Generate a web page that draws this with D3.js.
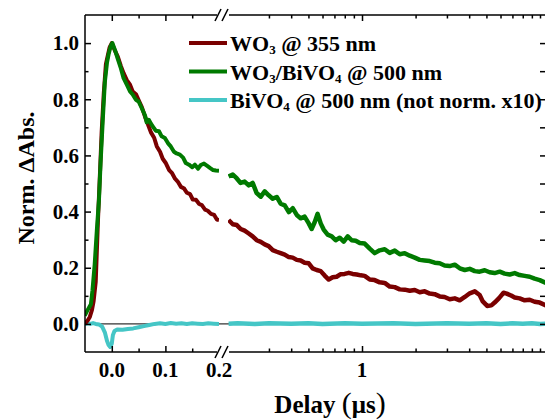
<!DOCTYPE html>
<html>
<head>
<meta charset="utf-8">
<script src="https://cdn.jsdelivr.net/npm/d3@7"></script>
<style>
  body { margin: 0; background: #fff; }
  text { font-family: "Liberation Serif", "Times New Roman", serif; font-weight: bold; fill: #000; }
</style>
</head>
<body>
<svg id="chart" width="545" height="420"></svg>
<script>
// ---- data: [delay (us), normalised dAbs] ----
// fast part, linear time axis (-0.05 .. 0.2 us)
const wo3Fast = [
  [-0.0505, 0.0], [-0.045, 0.012], [-0.041, 0.025], [-0.037, 0.05], [-0.034, 0.08],
  [-0.030, 0.15], [-0.026, 0.36], [-0.022, 0.54], [-0.019, 0.68], [-0.015, 0.82],
  [-0.011, 0.925], [-0.007, 0.96], [-0.004, 0.985], [0.0, 1.0], [0.006, 0.972],
  [0.011, 0.953], [0.017, 0.918], [0.022, 0.893], [0.028, 0.868], [0.034, 0.852],
  [0.039, 0.828], [0.045, 0.818], [0.050, 0.797], [0.056, 0.772], [0.062, 0.738],
  [0.067, 0.713], [0.073, 0.682], [0.079, 0.663], [0.084, 0.632], [0.090, 0.613],
  [0.095, 0.588], [0.101, 0.572], [0.107, 0.548], [0.112, 0.538], [0.118, 0.517],
  [0.123, 0.507], [0.129, 0.488], [0.135, 0.482], [0.140, 0.467], [0.146, 0.462],
  [0.151, 0.443], [0.157, 0.442], [0.163, 0.427], [0.168, 0.423], [0.174, 0.407],
  [0.179, 0.403], [0.185, 0.392], [0.191, 0.388], [0.196, 0.372], [0.200, 0.37]
];
const bivFast = [
  [-0.0505, 0.03], [-0.045, 0.05], [-0.039, 0.07], [-0.036, 0.12], [-0.032, 0.21],
  [-0.028, 0.33], [-0.024, 0.44], [-0.021, 0.57], [-0.017, 0.72], [-0.013, 0.86],
  [-0.009, 0.93], [-0.006, 0.96], [-0.002, 0.99], [0.001, 1.0], [0.006, 0.975],
  [0.011, 0.945], [0.017, 0.91], [0.022, 0.875], [0.028, 0.852], [0.034, 0.828],
  [0.039, 0.817], [0.045, 0.798], [0.050, 0.792], [0.056, 0.768], [0.062, 0.742],
  [0.065, 0.718], [0.069, 0.727], [0.073, 0.713], [0.077, 0.702], [0.082, 0.688],
  [0.088, 0.686], [0.093, 0.668], [0.099, 0.662], [0.105, 0.643], [0.110, 0.632],
  [0.116, 0.613], [0.121, 0.607], [0.127, 0.603], [0.133, 0.592], [0.138, 0.573],
  [0.144, 0.567], [0.150, 0.558], [0.155, 0.567], [0.161, 0.553], [0.166, 0.566],
  [0.172, 0.571], [0.178, 0.563], [0.183, 0.556], [0.189, 0.548], [0.194, 0.546],
  [0.200, 0.545]
];
const bvoFast = [
  [-0.0505, 0.0], [-0.045, 0.002], [-0.040, 0.0], [-0.035, 0.003], [-0.030, 0.0],
  [-0.024, -0.002], [-0.018, -0.01], [-0.013, -0.03], [-0.009, -0.06], [-0.006, -0.075],
  [-0.003, -0.082], [0.0, -0.07], [0.002, -0.04], [0.005, -0.025], [0.010, -0.02],
  [0.020, -0.021], [0.030, -0.018], [0.040, -0.016], [0.050, -0.012], [0.060, -0.008],
  [0.070, -0.004], [0.080, 0.0], [0.090, 0.002], [0.100, 0.0], [0.110, 0.003],
  [0.120, 0.001], [0.130, 0.002], [0.140, 0.0], [0.150, 0.002], [0.160, 0.001],
  [0.170, 0.0], [0.180, 0.002], [0.190, 0.001], [0.200, 0.0]
];
// slow part, log time axis (0.2 .. 10 us)
const wo3Slow = [
  [0.178, 0.37], [0.188, 0.355], [0.198, 0.352], [0.208, 0.338], [0.219, 0.332],
  [0.231, 0.322], [0.243, 0.312], [0.256, 0.298], [0.270, 0.292], [0.284, 0.283],
  [0.299, 0.277], [0.315, 0.263], [0.332, 0.257], [0.349, 0.252], [0.368, 0.247],
  [0.388, 0.238], [0.408, 0.236], [0.430, 0.228], [0.452, 0.226], [0.476, 0.218],
  [0.502, 0.216], [0.528, 0.198], [0.556, 0.192], [0.586, 0.188], [0.617, 0.172],
  [0.650, 0.158], [0.684, 0.166], [0.720, 0.168], [0.759, 0.177], [0.799, 0.178],
  [0.842, 0.182], [0.886, 0.178], [0.934, 0.176], [0.983, 0.173], [1.035, 0.171],
  [1.105, 0.158], [1.178, 0.156], [1.257, 0.148], [1.341, 0.146], [1.431, 0.133],
  [1.527, 0.131], [1.629, 0.123], [1.738, 0.122], [1.854, 0.118], [1.978, 0.121],
  [2.11, 0.113], [2.25, 0.116], [2.40, 0.108], [2.56, 0.106], [2.73, 0.098],
  [2.91, 0.096], [3.11, 0.088], [3.32, 0.091], [3.54, 0.084], [3.78, 0.096],
  [4.03, 0.109], [4.30, 0.116], [4.58, 0.103], [4.77, 0.08], [5.05, 0.064],
  [5.33, 0.066], [5.56, 0.076], [5.89, 0.092], [6.24, 0.111], [6.50, 0.108],
  [6.88, 0.101], [7.21, 0.094], [7.69, 0.091], [8.20, 0.084], [8.75, 0.086],
  [9.33, 0.079], [9.96, 0.076], [10.8, 0.066]
];
const bivSlow = [
  [0.178, 0.525], [0.188, 0.532], [0.198, 0.518], [0.208, 0.502], [0.219, 0.507],
  [0.231, 0.493], [0.243, 0.502], [0.256, 0.466], [0.270, 0.453], [0.284, 0.472],
  [0.299, 0.458], [0.315, 0.446], [0.332, 0.452], [0.349, 0.428], [0.368, 0.422],
  [0.388, 0.398], [0.408, 0.412], [0.430, 0.388], [0.452, 0.376], [0.476, 0.382],
  [0.502, 0.358], [0.521, 0.338], [0.542, 0.362], [0.563, 0.392], [0.586, 0.358],
  [0.609, 0.336], [0.641, 0.318], [0.676, 0.312], [0.711, 0.298], [0.749, 0.307],
  [0.789, 0.293], [0.831, 0.312], [0.875, 0.298], [0.922, 0.296], [0.971, 0.288],
  [1.035, 0.286], [1.105, 0.268], [1.178, 0.252], [1.257, 0.262], [1.341, 0.266],
  [1.431, 0.253], [1.527, 0.261], [1.629, 0.248], [1.738, 0.252], [1.854, 0.243],
  [1.978, 0.236], [2.11, 0.228], [2.25, 0.226], [2.40, 0.224], [2.56, 0.218],
  [2.73, 0.216], [2.91, 0.208], [3.11, 0.206], [3.32, 0.211], [3.54, 0.198],
  [3.78, 0.192], [4.03, 0.196], [4.30, 0.188], [4.58, 0.186], [4.89, 0.191],
  [5.21, 0.184], [5.56, 0.181], [5.94, 0.186], [6.33, 0.179], [6.76, 0.176],
  [7.21, 0.181], [7.69, 0.174], [8.20, 0.171], [8.75, 0.168], [9.33, 0.161],
  [9.96, 0.156], [10.8, 0.146]
];
const bvoSlow = [
  [0.178, 0.001], [0.2, 0.002], [0.25, 0.0], [0.3, 0.002], [0.4, 0.001], [0.5, 0.002],
  [0.6, 0.0], [0.8, 0.002], [1.0, 0.001], [1.5, 0.002], [2.0, 0.0], [3.0, 0.002],
  [4.0, 0.001], [5.0, 0.002], [6.0, 0.0], [7.0, 0.002], [8.0, 0.001], [9.0, 0.002],
  [10.0, 0.0], [10.8, 0.001]
];

const seriesColors = ['#7a0000', '#007a00', '#45c6c6'];

const yTicks = [0.0, 0.2, 0.4, 0.6, 0.8, 1.0];
const yMinor = [0.1, 0.3, 0.5, 0.7, 0.9];
const xFastTicks = [0.0, 0.1];
const xFastMinor = [0.05, 0.15];
const xSlowTicks = [1];
const xSlowMinor = [0.3, 0.4, 0.5, 0.6, 0.7, 0.8, 0.9, 2, 3, 4, 5, 6, 7, 8, 9, 10];

// ---- layout ----
const plotL = 85, plotT = 15, plotB = 352, plotR = 546;
const breakA = 219, breakB = 229;

const svg = d3.select('#chart');

const xFast = d3.scaleLinear().domain([-0.05, 0.2]).range([plotL, breakA]);
const xSlow = d3.scaleLog().domain([0.2, 10]).range([237.6, 540]);
const y = d3.scaleLinear().domain([-0.1, 1.1]).range([plotB, plotT]);

// zero line
svg.append('line')
  .attr('x1', plotL).attr('x2', plotR)
  .attr('y1', y(0)).attr('y2', y(0))
  .attr('stroke', '#000').attr('stroke-width', 1);

// clip regions for each segment
const defs = svg.append('defs');
defs.append('clipPath').attr('id', 'clipFast').append('rect')
  .attr('x', plotL).attr('y', plotT).attr('width', breakA - plotL).attr('height', plotB - plotT);
defs.append('clipPath').attr('id', 'clipSlow').append('rect')
  .attr('x', breakB - 1).attr('y', plotT).attr('width', plotR - breakB + 1).attr('height', plotB - plotT);

const lineFast = d3.line().x(d => xFast(d[0])).y(d => y(d[1]));
const lineSlow = d3.line().x(d => xSlow(d[0])).y(d => y(d[1]));

const fastSets = [wo3Fast, bivFast, bvoFast];
const slowSets = [wo3Slow, bivSlow, bvoSlow];

// cyan first, then red, green on top
[2, 0, 1].forEach(function(i) {
  svg.append('path').datum(fastSets[i])
    .attr('clip-path', 'url(#clipFast)')
    .attr('d', lineFast)
    .attr('fill', 'none')
    .attr('stroke', seriesColors[i])
    .attr('stroke-width', 4)
    .attr('stroke-linejoin', 'round');
  svg.append('path').datum(slowSets[i])
    .attr('clip-path', 'url(#clipSlow)')
    .attr('d', lineSlow)
    .attr('fill', 'none')
    .attr('stroke', seriesColors[i])
    .attr('stroke-width', 4.5)
    .attr('stroke-linejoin', 'round');
});

// ---- axes frame ----
const frame = svg.append('g').attr('stroke', '#000').attr('stroke-width', 1.5).attr('fill', 'none');
frame.append('line').attr('x1', plotL).attr('x2', plotL).attr('y1', plotT).attr('y2', plotB);
frame.append('line').attr('x1', plotR).attr('x2', plotR).attr('y1', plotT).attr('y2', plotB);
[plotT, plotB].forEach(function(yy) {
  frame.append('line').attr('x1', plotL).attr('x2', breakA - 2).attr('y1', yy).attr('y2', yy);
  frame.append('line').attr('x1', breakB).attr('x2', plotR).attr('y1', yy).attr('y2', yy);
  // break marks
  frame.append('line').attr('x1', 215).attr('y1', yy + 6).attr('x2', 221).attr('y2', yy - 6);
  frame.append('line').attr('x1', 222).attr('y1', yy + 6).attr('x2', 228).attr('y2', yy - 6);
});

// ---- ticks ----
function tickAxis(axis, transform, size) {
  const g = svg.append('g').attr('transform', transform).call(axis.tickSize(size).tickSizeOuter(0));
  g.select('.domain').remove();
  g.selectAll('.tick line').attr('stroke', '#000').attr('stroke-width', 1.5);
  return g;
}
const noLabel = () => '';

// bottom
tickAxis(d3.axisBottom(xFast).tickValues(xFastTicks).tickFormat(noLabel), `translate(0,${plotB})`, -6);
tickAxis(d3.axisBottom(xFast).tickValues(xFastMinor).tickFormat(noLabel), `translate(0,${plotB})`, -3.5);
tickAxis(d3.axisBottom(xSlow).tickValues(xSlowTicks).tickFormat(noLabel), `translate(0,${plotB})`, -6);
tickAxis(d3.axisBottom(xSlow).tickValues(xSlowMinor).tickFormat(noLabel), `translate(0,${plotB})`, -3.5);
// top
tickAxis(d3.axisTop(xFast).tickValues(xFastTicks).tickFormat(noLabel), `translate(0,${plotT})`, -6);
tickAxis(d3.axisTop(xFast).tickValues(xFastMinor).tickFormat(noLabel), `translate(0,${plotT})`, -3.5);
tickAxis(d3.axisTop(xSlow).tickValues(xSlowTicks).tickFormat(noLabel), `translate(0,${plotT})`, -6);
tickAxis(d3.axisTop(xSlow).tickValues(xSlowMinor).tickFormat(noLabel), `translate(0,${plotT})`, -3.5);
// left / right
tickAxis(d3.axisLeft(y).tickValues(yTicks).tickFormat(noLabel), `translate(${plotL},0)`, -6);
tickAxis(d3.axisLeft(y).tickValues(yMinor).tickFormat(noLabel), `translate(${plotL},0)`, -3.5);
tickAxis(d3.axisRight(y).tickValues(yTicks.concat(yMinor)).tickFormat(noLabel), `translate(${plotR},0)`, -6);

// ---- tick labels ----
const labels = svg.append('g').style('font-size', '21px');
yTicks.forEach(function(v) {
  labels.append('text')
    .attr('x', 79).attr('y', y(v)).attr('dy', '0.35em')
    .attr('text-anchor', 'end')
    .text(d3.format('.1f')(v));
});
xFastTicks.concat([0.2]).forEach(function(v) {
  labels.append('text')
    .attr('x', xFast(v)).attr('y', 377)
    .attr('text-anchor', 'middle')
    .text(d3.format('.1f')(v));
});
xSlowTicks.forEach(function(v) {
  labels.append('text')
    .attr('x', xSlow(v)).attr('y', 377)
    .attr('text-anchor', 'middle')
    .text(v);
});

// ---- axis titles ----
svg.append('text')
  .attr('transform', 'translate(34,178) rotate(-90)')
  .attr('text-anchor', 'middle')
  .style('font-size', '24px')
  .text('Norm. ΔAbs.');
const xTitle = svg.append('text')
  .attr('x', 330).attr('y', 413)
  .attr('text-anchor', 'middle')
  .style('font-size', '25px');
xTitle.append('tspan').text('Delay ');
xTitle.append('tspan').style('font-size', '30px').style('font-weight', 'normal').text('(');
xTitle.append('tspan').text('μs');
xTitle.append('tspan').style('font-size', '30px').style('font-weight', 'normal').text(')');

// ---- legend ----
const legendRows = [43, 71.5, 100];
const legendParts = [
  [['WO', false], ['3', true], [' @ 355 nm', false]],
  [['WO', false], ['3', true], ['/BiVO', false], ['4', true], [' @ 500 nm', false]],
  [['BiVO', false], ['4', true], [' @ 500 nm (not norm. x10)', false]]
];
const legend = svg.append('g').attr('class', 'legend');
legendRows.forEach(function(ly, i) {
  legend.append('line')
    .attr('x1', 189).attr('x2', 227).attr('y1', ly).attr('y2', ly)
    .attr('stroke', seriesColors[i]).attr('stroke-width', 4);
  const t = legend.append('text')
    .attr('x', 230).attr('y', ly + 8)
    .style('font-size', '22px');
  legendParts[i].forEach(function(p) {
    t.append('tspan')
      .attr('baseline-shift', p[1] ? '-25%' : null)
      .style('font-size', p[1] ? '13px' : null)
      .text(p[0]);
  });
});
</script>
</body>
</html>
